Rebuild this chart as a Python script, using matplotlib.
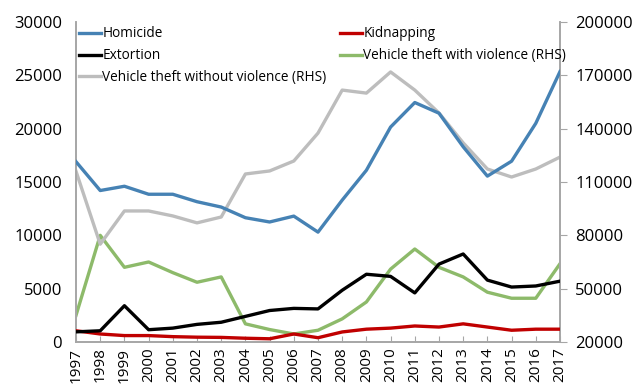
import matplotlib
matplotlib.use("Agg")
import matplotlib.pyplot as plt

plt.rcParams['font.family'] = ['Open Sans', 'DejaVu Sans']

years = list(range(1997, 2018))

# left axis series
homicide = [16900, 14200, 14600, 13850, 13850, 13150, 12650, 11650, 11250, 11800, 10300,
            13300, 16100, 20150, 22450, 21450, 18300, 15550, 16950, 20500, 25350]
kidnapping = [1050, 750, 600, 600, 500, 450, 430, 350, 300, 750, 400,
              940, 1200, 1300, 1500, 1400, 1700, 1400, 1100, 1200, 1200]
extortion = [950, 1050, 3400, 1150, 1300, 1650, 1850, 2400, 2950, 3150, 3100,
             4850, 6350, 6150, 4600, 7300, 8250, 5800, 5150, 5250, 5700]

# right axis series
theft_violent = [35000, 80000, 62000, 65000, 59000, 53600, 56600, 30200, 27000, 24500, 26600,
                 33000, 42500, 61000, 72300, 62000, 56600, 48000, 44600, 44600, 64000]
theft_nonviolent = [116000, 75000, 93700, 93700, 90900, 87000, 90300, 114500, 116200, 121800, 137500,
                    161700, 160000, 171900, 161700, 148800, 132000, 117300, 112800, 117300, 124000]

left_ticks = [0, 5000, 10000, 15000, 20000, 25000, 30000]
right_ticks = [20000, 50000, 80000, 110000, 140000, 170000, 200000]

c_blue = '#4682B4'
c_red = '#C00000'
c_black = '#000000'
c_green = '#8DBA6A'
c_gray = '#BDBDBD'
c_axis = '#A6A6A6'

fig = plt.figure(figsize=(6.41, 3.92), dpi=100)
ax = fig.add_axes([0.1186, 0.1276, 0.755, 0.8163])
ax2 = ax.twinx()

lw = 2.4
h1, = ax.plot(years, homicide, color=c_blue, lw=lw, label='Homicide', zorder=3)
h2, = ax.plot(years, kidnapping, color=c_red, lw=lw, label='Kidnapping', zorder=3)
h3, = ax.plot(years, extortion, color=c_black, lw=lw, label='Extortion', zorder=3)
h4, = ax2.plot(years, theft_violent, color=c_green, lw=lw, label='Vehicle theft with violence (RHS)')
h5, = ax2.plot(years, theft_nonviolent, color=c_gray, lw=lw, label='Vehicle theft without violence (RHS)')

# primary axis on top so its lines overlay the RHS lines
ax.set_zorder(ax2.get_zorder() + 1)
ax.patch.set_visible(False)

ax.set_xlim(years[0], years[-1])
ax.set_ylim(0, 30000)
ax2.set_ylim(20000, 200000)
ax.set_yticks(left_ticks)
ax2.set_yticks(right_ticks)
ax.set_xticks(years)
ax.set_xticklabels([str(y) for y in years], rotation=90, fontsize=11)

ax.tick_params(axis='y', length=0, labelsize=12, pad=10)
ax.tick_params(axis='x', direction='in', length=4, color=c_axis, pad=4)
ax2.tick_params(axis='y', direction='out', length=5, color=c_axis, labelsize=12, pad=6)

for a in (ax, ax2):
    a.spines['top'].set_visible(False)
    for s in ('left', 'right', 'bottom'):
        a.spines[s].set_color(c_axis)
        a.spines[s].set_linewidth(1.2)

leg = ax.legend([h1, h3, h5, h2, h4],
                [h.get_label() for h in (h1, h3, h5, h2, h4)],
                ncol=2, loc='upper left', bbox_to_anchor=(-0.005, 1.003),
                frameon=False, fontsize=9.8, handlelength=1.6, handletextpad=0.1,
                columnspacing=1.0, labelspacing=0.5, borderaxespad=0)

fig.savefig('out.png', dpi=100)
